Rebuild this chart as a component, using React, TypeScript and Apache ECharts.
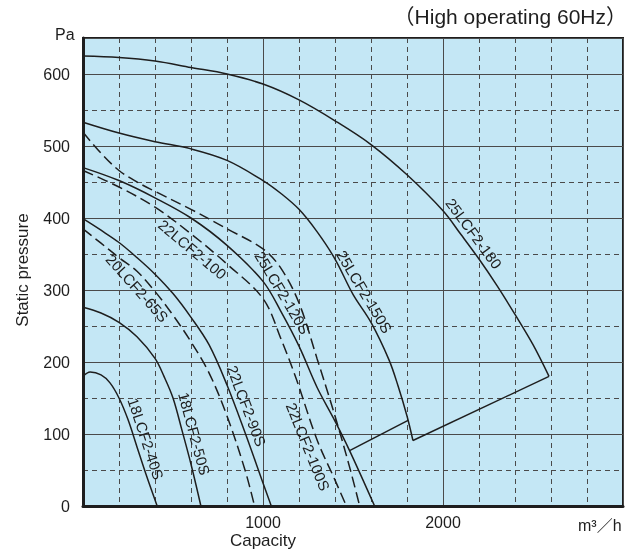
import React, { useEffect, useRef } from "react";
import * as echarts from "echarts";

// ---- data (capacity m3/h, static pressure Pa) ----
const curve25LCF2_180 = [[0, 625], [200, 623], [400, 618], [600, 609], [800, 600], [1000, 586], [1200, 564], [1400, 535], [1600, 502], [1800, 460], [2000, 410], [2100, 377], [2200, 343], [2300, 306], [2400, 266], [2500, 224], [2589, 180]];
const edge25LCF2_180 = [[2589, 180], [1833, 91]];
const curve25LCF2_150S = [[0, 533], [200, 518], [400, 506], [600, 496], [800, 480], [1000, 452], [1100, 434], [1200, 412], [1300, 381], [1400, 343], [1500, 294], [1600, 255], [1700, 203], [1750, 167], [1800, 125], [1833, 91]];
const edge25LCF2_150S = [[1481, 77], [1806, 119]];
const curve25LCF2_120S = [[0, 519], [100, 490], [200, 466], [300, 450], [400, 437], [600, 412], [800, 385], [1000, 357], [1100, 330], [1200, 282], [1300, 205], [1400, 125], [1480, 55], [1537, 0]];
const curve22LCF2_100 = [[0, 470], [200, 452], [400, 428], [600, 400], [800, 362], [1000, 312], [1100, 270], [1200, 222], [1300, 165], [1400, 118], [1481, 77], [1620, 0]];
const curve22LCF2_100S = [[0, 466], [200, 443], [400, 415], [600, 378], [800, 336], [1000, 288], [1100, 232], [1187, 175], [1300, 92], [1400, 36], [1463, 0]];
const curve22LCF2_90S = [[0, 399], [100, 383], [200, 366], [300, 345], [400, 322], [500, 295], [600, 262], [700, 224], [800, 168], [900, 102], [1000, 32], [1046, 0]];
const curve20LCF2_65S = [[0, 385], [100, 365], [200, 345], [300, 326], [400, 298], [500, 265], [600, 228], [700, 185], [800, 125], [900, 50], [953, 0]];
const curve18LCF2_50S = [[0, 276], [100, 268], [200, 255], [300, 235], [400, 205], [450, 180], [500, 150], [550, 105], [600, 58], [655, 0]];
const curve18LCF2_40S = [[0, 180], [40, 186], [100, 182], [150, 171], [200, 150], [250, 120], [300, 82], [350, 44], [412, 0]];

// curve labels: text, the curve it runs along, capacity where it sits, side of the curve (+1 upper/right, -1 lower/left)
const labelNames = ["25LCF2-180", "25LCF2-150S", "25LCF2-120S", "22LCF2-100", "20LCF2-65S", "22LCF2-90S", "22LCF2-100S", "18LCF2-50S", "18LCF2-40S"];
const labelCurves = [curve25LCF2_180, curve25LCF2_150S, curve22LCF2_100, curve22LCF2_100S, curve20LCF2_65S, curve22LCF2_90S, curve22LCF2_100S, curve18LCF2_50S, curve18LCF2_40S];
const labelAnchorX = [2122, 1511, 1056, 647, 347, 852, 1307, 559, 291];
const labelSide = [1, 1, 1, -1, -1, 1, -1, 1, 1];

const X_MIN = 0, X_MAX = 3000, X_MAJOR = 1000, X_MINOR = 200;
const Y_MIN = 0, Y_MAX = 650, Y_MAJOR = 100, Y_MINOR = 50;

const FONT = "Liberation Sans, Arial, Noto Sans CJK JP, sans-serif";
const INK = "#1e1e1e";
const GRIDC = "#4a4a4a";
const LABEL_GAP = 11;

function interp(curve: number[][], x: number): number {
  for (let i = 1; i < curve.length; i++) {
    const [x0, y0] = curve[i - 1];
    const [x1, y1] = curve[i];
    if ((x >= x0 && x <= x1) || (x >= x1 && x <= x0)) {
      const t = x1 === x0 ? 0 : (x - x0) / (x1 - x0);
      return y0 + t * (y1 - y0);
    }
  }
  return curve[curve.length - 1][1];
}

export default function App() {
  const ref = useRef<HTMLDivElement>(null);
  useEffect(() => {
    if (!ref.current) return;
    const chart = echarts.init(ref.current, undefined, { renderer: "svg" });
    const solid = (data: number[][], smooth: number | boolean = 0.35) => ({
      type: "line", data, smooth, showSymbol: false, symbol: "none", xAxisIndex: 1, yAxisIndex: 1,
      lineStyle: { color: INK, width: 1.5, type: "solid" }, z: 3,
    });
    const dashed = (data: number[][]) => ({
      type: "line", data, smooth: 0.35, showSymbol: false, symbol: "none", xAxisIndex: 1, yAxisIndex: 1,
      lineStyle: { color: INK, width: 1.5, type: [11, 5] }, z: 3,
    });
    chart.setOption({
      animation: false,
      grid: {
        left: 83, top: 38, width: 540, height: 468,
        show: true, backgroundColor: "#c4e7f5", borderColor: INK, borderWidth: 2,
      },
      xAxis: [
        {
          type: "value", min: X_MIN, max: X_MAX, interval: X_MINOR, position: "bottom", z: 0,
          axisLine: { show: false }, axisTick: { show: false }, axisLabel: { show: false },
          splitLine: { show: true, lineStyle: { color: GRIDC, width: 1, type: [5, 4] } },
        },
        {
          type: "value", min: X_MIN, max: X_MAX, interval: X_MAJOR, position: "bottom", z: 1,
          axisLine: { show: true, lineStyle: { color: INK, width: 3 } }, axisTick: { show: false },
          axisLabel: {
            margin: 8, fontSize: 16, color: INK, fontFamily: FONT,
            formatter: (v: number) => (v === X_MIN || v === X_MAX ? "" : String(v)),
          },
          splitLine: { show: true, lineStyle: { color: GRIDC, width: 1, type: "solid" } },
        },
      ],
      yAxis: [
        {
          type: "value", min: Y_MIN, max: Y_MAX, interval: Y_MINOR, position: "left", z: 0,
          axisLine: { show: false }, axisTick: { show: false }, axisLabel: { show: false },
          splitLine: { show: true, lineStyle: { color: GRIDC, width: 1, type: [5, 4] } },
        },
        {
          type: "value", min: Y_MIN, max: Y_MAX, interval: Y_MAJOR, position: "left", z: 1,
          axisLine: { show: true, lineStyle: { color: INK, width: 3 } }, axisTick: { show: false },
          axisLabel: {
            margin: 13, fontSize: 16, color: INK, fontFamily: FONT,
            formatter: (v: number) => (v > 600 ? "" : String(v)),
          },
          splitLine: { show: true, lineStyle: { color: GRIDC, width: 1, type: "solid" } },
        },
      ],
      series: [
        solid(curve25LCF2_180),
        solid(edge25LCF2_180, false),
        solid(curve25LCF2_150S),
        solid(edge25LCF2_150S, false),
        dashed(curve25LCF2_120S),
        solid(curve22LCF2_100),
        dashed(curve22LCF2_100S),
        solid(curve22LCF2_90S),
        dashed(curve20LCF2_65S),
        solid(curve18LCF2_50S),
        solid(curve18LCF2_40S),
      ],
    });

    const toPx = (x: number, y: number) => chart.convertToPixel({ seriesIndex: 0 }, [x, y]) as number[];
    const curveLabels = labelNames.map((name, i) => {
      const c = labelCurves[i];
      const x = labelAnchorX[i];
      const dx = 25;
      const p0 = toPx(x - dx, interp(c, x - dx));
      const p1 = toPx(x + dx, interp(c, x + dx));
      const pm = toPx(x, interp(c, x));
      const a = Math.atan2(p1[1] - p0[1], p1[0] - p0[0]);
      const nx = Math.sin(a) * labelSide[i];
      const ny = -Math.cos(a) * labelSide[i];
      return {
        type: "text",
        x: pm[0] + nx * LABEL_GAP,
        y: pm[1] + ny * LABEL_GAP,
        rotation: -a,
        z: 10,
        style: { text: name, font: `15px ${FONT}`, fill: INK, align: "center", verticalAlign: "middle" },
      };
    });

    chart.setOption({
      graphic: [
        { type: "text", right: 5, top: 6, style: { text: "（High operating 60Hz）", font: `21px ${FONT}`, fill: INK } },
        { type: "text", left: 55, top: 26, style: { text: "Pa", font: `16px ${FONT}`, fill: INK } },
        { type: "text", x: 22, y: 270, rotation: Math.PI / 2, style: { text: "Static pressure", font: `17px ${FONT}`, fill: INK, align: "center", verticalAlign: "middle" } },
        { type: "text", x: 263, y: 540, style: { text: "Capacity", font: `17px ${FONT}`, fill: INK, align: "center", verticalAlign: "middle" } },
        { type: "text", x: 578, y: 525, style: { text: "m³／h", font: `16px ${FONT}`, fill: INK, align: "left", verticalAlign: "middle" } },
        ...curveLabels,
      ],
    });
    return () => chart.dispose();
  }, []);
  return <div ref={ref} style={{ position: "fixed", left: 0, top: 0, width: 632, height: 550 }} />;
}
